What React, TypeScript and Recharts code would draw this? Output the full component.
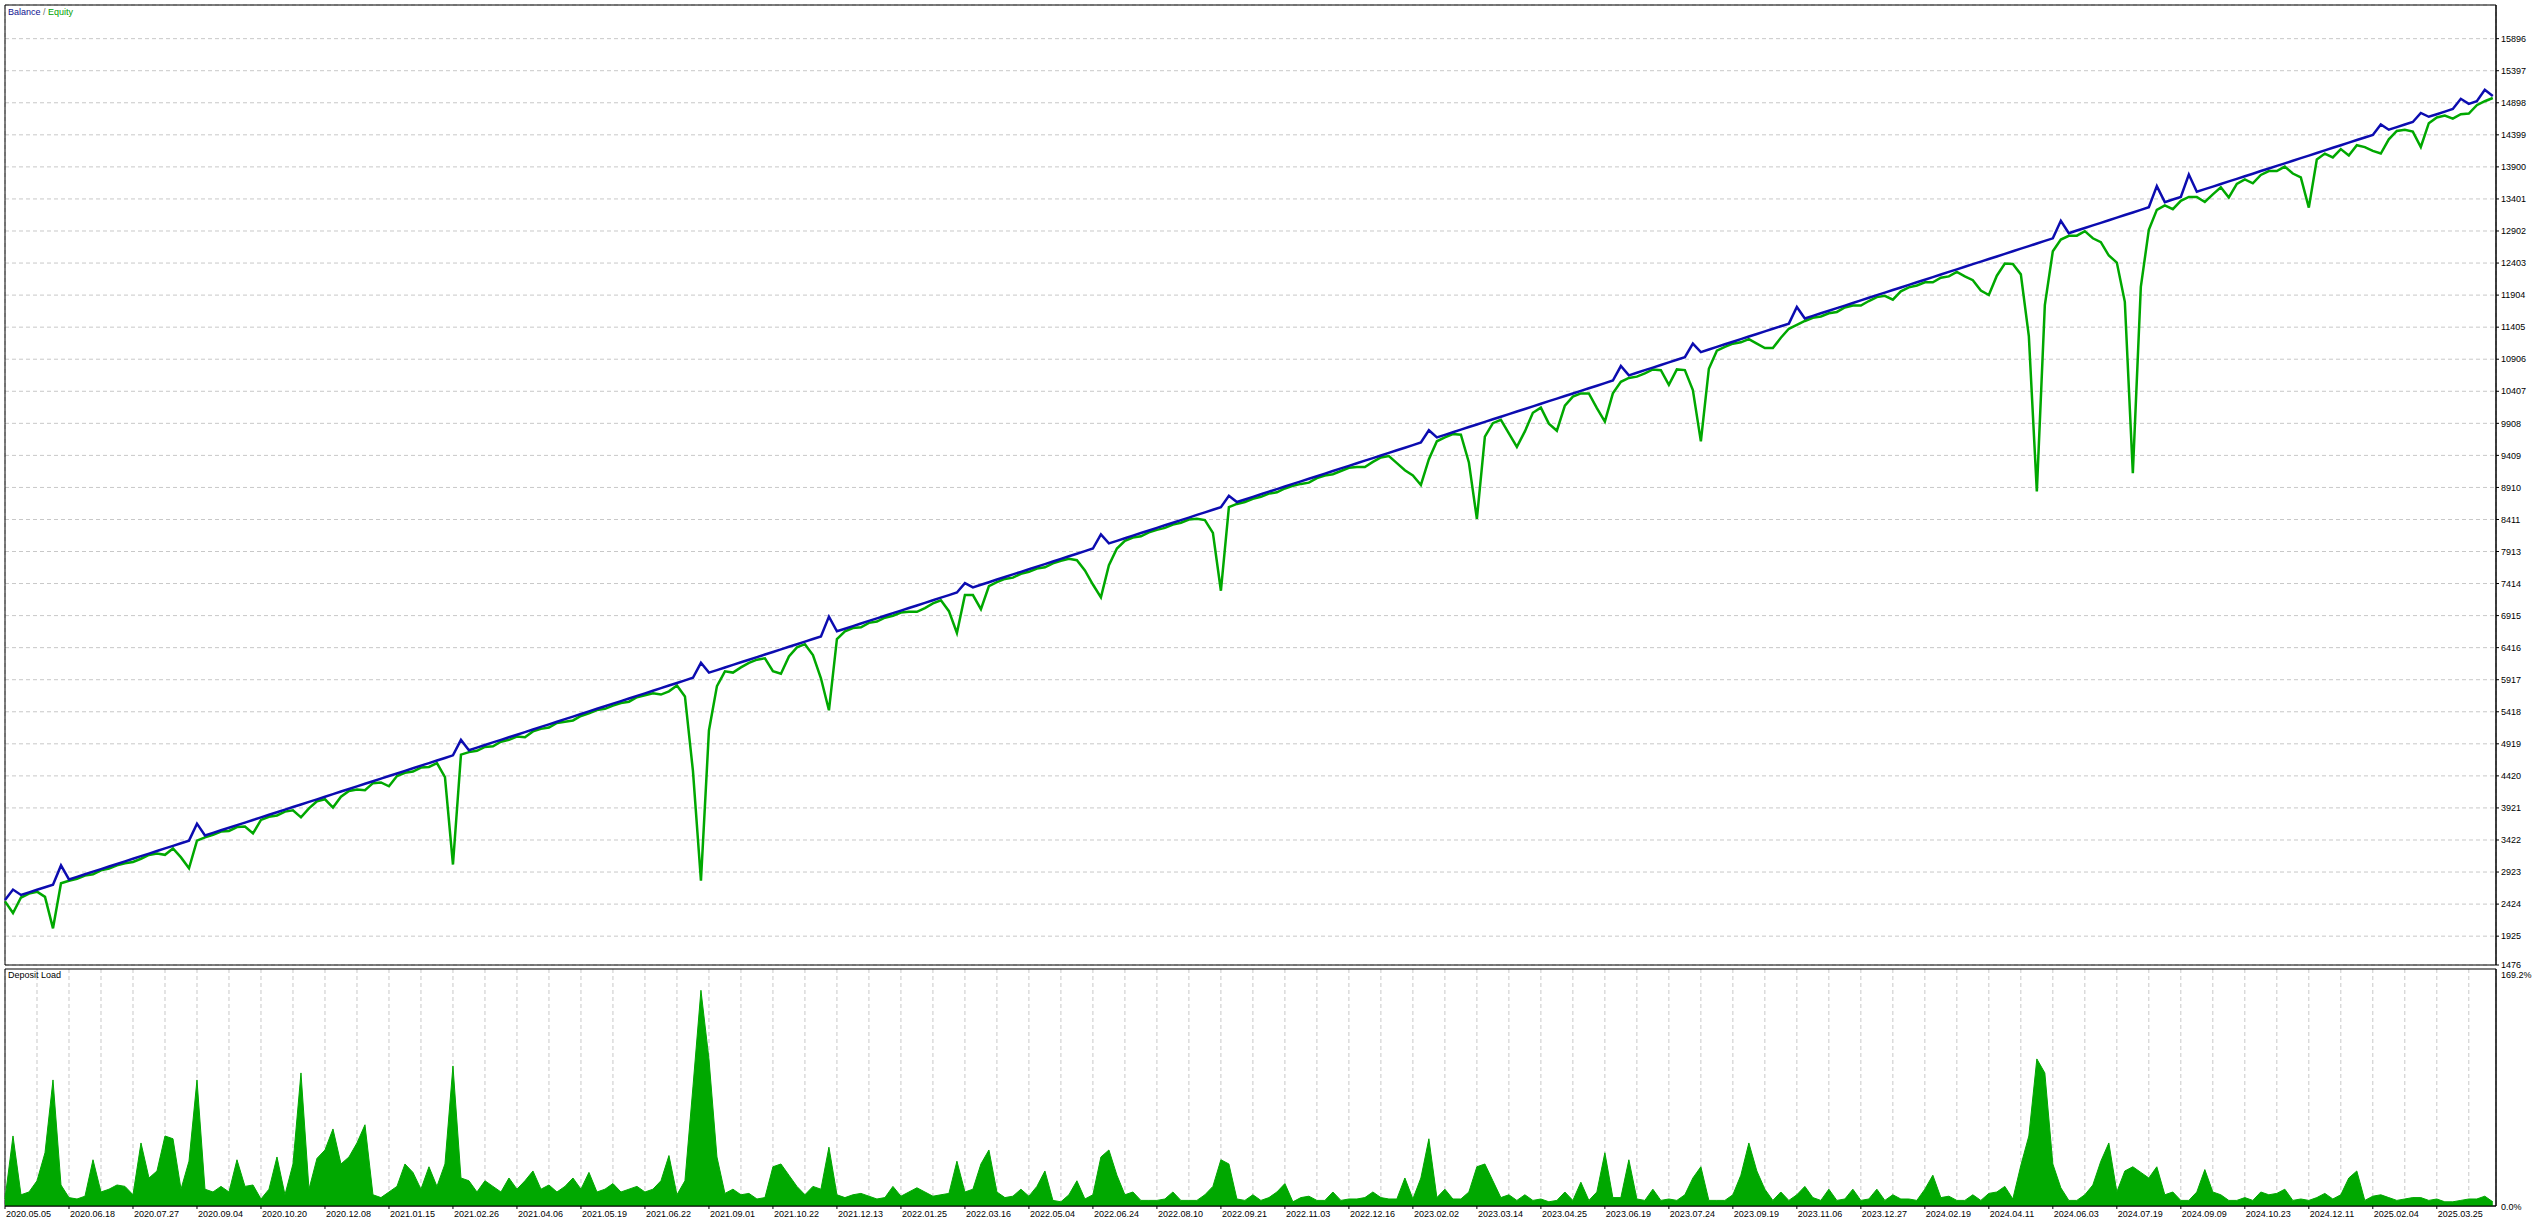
import React from 'react'
import { LineChart, Line, AreaChart, Area, XAxis, YAxis, CartesianGrid, ReferenceArea } from 'recharts'

const FONT = '"Liberation Sans", Arial, sans-serif'
const BLUE = '#0c0cb0'
const GREEN = '#00a800'

// one sample every 8 px of the tester graph, x is the sample number
const X_MAX = 311.4

const dateLabels = [
  '2020.05.05', '2020.06.18', '2020.07.27', '2020.09.04', '2020.10.20', '2020.12.08',
  '2021.01.15', '2021.02.26', '2021.04.06', '2021.05.19', '2021.06.22', '2021.09.01',
  '2021.10.22', '2021.12.13', '2022.01.25', '2022.03.16', '2022.05.04', '2022.06.24',
  '2022.08.10', '2022.09.21', '2022.11.03', '2022.12.16', '2023.02.02', '2023.03.14',
  '2023.04.25', '2023.06.19', '2023.07.24', '2023.09.19', '2023.11.06', '2023.12.27',
  '2024.02.19', '2024.04.11', '2024.06.03', '2024.07.19', '2024.09.09', '2024.10.23',
  '2024.12.11', '2025.02.04', '2025.03.25',
]

const balanceTicks = [
  1476, 1925, 2424, 2923, 3422, 3921, 4420, 4919, 5418, 5917, 6416, 6915, 7414, 7913, 8411,
  8910, 9409, 9908, 10407, 10906, 11405, 11904, 12403, 12902, 13401, 13900, 14399, 14898,
  15397, 15896,
]

const balance = [
  2486, 2650, 2566, 2607, 2647, 2687, 2727, 3026, 2808, 2848,
  2888, 2929, 2969, 3009, 3049, 3090, 3130, 3170, 3210, 3251,
  3291, 3331, 3371, 3412, 3676, 3492, 3532, 3573, 3613, 3653,
  3693, 3734, 3774, 3814, 3854, 3894, 3935, 3975, 4015, 4055,
  4096, 4136, 4176, 4216, 4257, 4297, 4337, 4377, 4418, 4458,
  4498, 4538, 4579, 4619, 4659, 4699, 4740, 4980, 4820, 4860,
  4900, 4941, 4981, 5021, 5061, 5102, 5142, 5182, 5222, 5263,
  5303, 5343, 5383, 5424, 5464, 5504, 5544, 5584, 5625, 5665,
  5705, 5745, 5786, 5826, 5866, 5906, 5947, 6180, 6027, 6067,
  6108, 6148, 6188, 6228, 6269, 6309, 6349, 6389, 6430, 6470,
  6510, 6550, 6590, 6900, 6671, 6711, 6751, 6792, 6832, 6872,
  6912, 6953, 6993, 7033, 7073, 7113, 7154, 7194, 7234, 7274,
  7420, 7355, 7395, 7435, 7476, 7516, 7556, 7596, 7637, 7677,
  7717, 7757, 7798, 7838, 7878, 7918, 7959, 8180, 8039, 8079,
  8120, 8160, 8200, 8240, 8280, 8321, 8361, 8401, 8441, 8482,
  8522, 8562, 8602, 8780, 8683, 8723, 8763, 8804, 8844, 8884,
  8924, 8965, 9005, 9045, 9085, 9126, 9166, 9206, 9246, 9287,
  9327, 9367, 9407, 9448, 9488, 9528, 9568, 9609, 9800, 9689,
  9729, 9770, 9810, 9850, 9890, 9931, 9971, 10011, 10051, 10092,
  10132, 10172, 10212, 10253, 10293, 10333, 10373, 10414, 10454, 10494,
  10534, 10575, 10800, 10655, 10695, 10736, 10776, 10816, 10856, 10897,
  10937, 11150, 11017, 11058, 11098, 11138, 11178, 11219, 11259, 11299,
  11339, 11380, 11420, 11460, 11720, 11541, 11581, 11621, 11661, 11702,
  11741, 11782, 11822, 11862, 11903, 11943, 11983, 12023, 12064, 12104,
  12144, 12184, 12225, 12265, 12305, 12345, 12386, 12426, 12466, 12506,
  12546, 12587, 12627, 12667, 12707, 12748, 12788, 13060, 12868, 12909,
  12949, 12989, 13029, 13070, 13110, 13150, 13190, 13231, 13271, 13600,
  13351, 13392, 13432, 13780, 13513, 13553, 13593, 13633, 13674, 13714,
  13754, 13794, 13835, 13875, 13915, 13955, 13996, 14036, 14076, 14116,
  14157, 14197, 14237, 14277, 14318, 14358, 14398, 14560, 14479, 14519,
  14559, 14599, 14740, 14680, 14720, 14760, 14801, 14960, 14881, 14921,
  15100, 15002,
]

// balance minus equity at each sample
const floatingLoss = [
  20, 364, 40, 20, 30, 150, 680, 278, 20, 30,
  20, 40, 20, 30, 20, 30, 50, 40, 20, 40,
  100, 40, 220, 430, 264, 30, 30, 20, 50, 30,
  60, 210, 40, 30, 50, 30, 50, 200, 100, 30,
  40, 210, 80, 30, 50, 100, 30, 60, 160, 40,
  30, 50, 30, 60, 40, 300, 1700, 230, 30, 50,
  30, 60, 30, 40, 30, 80, 30, 30, 50, 20,
  40, 60, 30, 30, 20, 40, 30, 30, 50, 20,
  30, 40, 100, 90, 40, 250, 1450, 3393, 900, 250,
  60, 120, 80, 50, 40, 60, 300, 380, 150, 50,
  40, 250, 650, 1459, 120, 40, 30, 60, 30, 50,
  30, 40, 30, 60, 100, 80, 50, 40, 250, 630,
  185, 120, 380, 60, 40, 30, 50, 30, 40, 30,
  50, 30, 30, 40, 100, 300, 560, 981, 340, 120,
  40, 30, 50, 30, 30, 40, 30, 40, 30, 60,
  120, 360, 1300, 177, 30, 40, 30, 40, 30, 50,
  30, 30, 40, 60, 30, 30, 50, 40, 30, 60,
  100, 60, 30, 50, 200, 350, 470, 660, 451, 60,
  40, 30, 80, 550, 1470, 230, 60, 50, 300, 550,
  350, 100, 60, 350, 500, 150, 50, 40, 80, 350,
  600, 200, 245, 40, 60, 50, 30, 80, 350, 150,
  200, 723, 1390, 300, 60, 40, 30, 50, 40, 150,
  260, 300, 180, 80, 280, 40, 30, 50, 40, 60,
  30, 40, 80, 50, 30, 50, 150, 60, 40, 50,
  40, 80, 50, 70, 40, 150, 250, 450, 560, 300,
  150, 200, 400, 1400, 3860, 1000, 200, 292, 40, 80,
  50, 200, 300, 550, 700, 1350, 4060, 1200, 350, 369,
  50, 150, 60, 348, 80, 200, 120, 50, 250, 80,
  50, 150, 60, 40, 80, 50, 200, 300, 810, 100,
  50, 150, 60, 200, 80, 150, 250, 452, 150, 60,
  80, 150, 530, 100, 50, 60, 150, 239, 150, 60,
  178, 30,
]

// deposit load, percent
const depositLoad = [
  5, 50, 8, 10, 18, 38, 90, 15, 6, 5,
  7, 33, 10, 12, 15, 14, 8, 45, 20, 25,
  50, 48, 12, 32, 90, 12, 10, 14, 10, 33,
  14, 15, 5, 12, 35, 8, 30, 95, 12, 34,
  40, 55, 30, 35, 45, 58, 8, 6, 10, 14,
  30, 24, 12, 28, 14, 30, 100, 20, 18, 10,
  18, 14, 10, 20, 12, 18, 25, 12, 15, 10,
  14, 20, 12, 24, 10, 12, 16, 10, 12, 14,
  10, 12, 18, 36, 8, 18, 85, 154, 105, 35,
  9, 12, 8, 9, 5, 6, 28, 30, 22, 14,
  8, 14, 12, 42, 8, 6, 8, 9, 7, 5,
  6, 14, 7, 10, 13, 10, 7, 8, 9, 32,
  10, 12, 30, 40, 10, 6, 7, 12, 7, 14,
  25, 4, 3, 8, 18, 5, 8, 35, 40, 22,
  8, 10, 4, 4, 4, 5, 10, 4, 4, 4,
  8, 14, 33, 30, 5, 4, 8, 4, 6, 10,
  16, 3, 6, 7, 4, 4, 10, 4, 5, 5,
  6, 10, 6, 5, 5, 20, 5, 20, 48, 6,
  12, 5, 5, 10, 28, 30, 18, 6, 8, 4,
  8, 4, 5, 3, 4, 10, 4, 17, 4, 10,
  38, 6, 6, 33, 5, 4, 12, 4, 5, 4,
  8, 20, 28, 4, 4, 4, 8, 22, 45, 25,
  12, 4, 10, 4, 8, 14, 6, 4, 12, 4,
  5, 12, 4, 5, 12, 4, 8, 5, 5, 4,
  12, 22, 6, 7, 4, 4, 8, 4, 9, 10,
  14, 5, 29, 50, 105, 95, 30, 13, 4, 4,
  8, 15, 32, 45, 10, 25, 28, 24, 20, 28,
  8, 10, 4, 4, 10, 26, 10, 8, 4, 4,
  6, 4, 10, 8, 9, 12, 4, 5, 4, 6,
  9, 5, 8, 20, 25, 4, 7, 8, 6, 4,
  5, 6, 6, 4, 5, 3, 3, 4, 5, 5,
  7, 3,
]

const mainData = balance.map((b, i) => ({ i, balance: b, equity: b - floatingLoss[i] }))
const loadData = depositLoad.map((v, i) => ({ i, load: v }))

// grid every 4 samples, a date label on every second grid line
const gridTicks = Array.from({ length: 78 }, (_, k) => k * 4)

function DateTick({ x, y, payload }: any) {
  const v = payload.value
  if (v % 8 !== 0) return null
  const label = dateLabels[v / 8]
  if (!label) return null
  return (
    <g>
      <line x1={x} y1={y} x2={x} y2={y + 3} stroke="#000" />
      <text x={x + 1} y={y + 10.5} fontSize={9} fontFamily={FONT} fill="#000" textAnchor="start">
        {label}
      </text>
    </g>
  )
}

function LoadTick({ x, y, payload }: any) {
  const top = payload.value > 0
  return (
    <text x={x} y={top ? y + 8.7 : y + 3.9} fontSize={9} fontFamily={FONT} fill="#000" textAnchor="start">
      {payload.value.toFixed(1)}%
    </text>
  )
}

export default function App() {
  return (
    <div style={{ position: 'absolute', left: 0, top: 0, width: 2540, height: 1223, background: '#fff', overflow: 'hidden' }}>
      <div style={{ position: 'absolute', left: 0, top: 0 }}>
        <LineChart width={2540} height={970} data={mainData} margin={{ top: 5, right: 0, left: 5, bottom: 5 }}>
          <CartesianGrid stroke="#c8c8c8" strokeDasharray="4 3" />
          <XAxis
            dataKey="i"
            type="number"
            domain={[0, X_MAX]}
            ticks={gridTicks}
            interval={0}
            tick={false}
            tickLine={false}
            axisLine={false}
            height={0}
          />
          <YAxis
            orientation="right"
            domain={[1476, 16420]}
            ticks={balanceTicks}
            interval={0}
            width={44}
            tickSize={3}
            tickMargin={2}
            axisLine={{ stroke: '#000' }}
            tickLine={{ stroke: '#000' }}
            tick={{ fontSize: 9, fill: '#000', fontFamily: FONT }}
          />
          <ReferenceArea x1={0} x2={X_MAX} y1={1476} y2={16420} fill="none" stroke="#000" strokeWidth={1} />
          <Line type="linear" dataKey="equity" stroke={GREEN} strokeWidth={2.5} dot={false} isAnimationActive={false} />
          <Line type="linear" dataKey="balance" stroke={BLUE} strokeWidth={2.5} dot={false} isAnimationActive={false} />
        </LineChart>
      </div>

      <div style={{ position: 'absolute', left: 0, top: 964 }}>
        <AreaChart width={2540} height={259} data={loadData} margin={{ top: 5, right: 0, left: 5, bottom: 0 }}>
          <CartesianGrid horizontal={false} stroke="#c8c8c8" strokeDasharray="4 3" />
          <XAxis
            dataKey="i"
            type="number"
            domain={[0, X_MAX]}
            ticks={gridTicks}
            interval={0}
            height={17}
            tickSize={0}
            tickMargin={0}
            tickLine={false}
            axisLine={{ stroke: '#000' }}
            tick={<DateTick />}
          />
          <YAxis
            orientation="right"
            domain={[0, 169.2]}
            ticks={[0, 169.2]}
            interval={0}
            width={44}
            tickSize={3}
            tickMargin={2}
            axisLine={{ stroke: '#000' }}
            tickLine={false}
            tick={<LoadTick />}
          />
          <ReferenceArea x1={0} x2={X_MAX} y1={0} y2={169.2} fill="none" stroke="#000" strokeWidth={1} />
          <Area
            type="linear"
            dataKey="load"
            stroke={GREEN}
            strokeWidth={1}
            fill={GREEN}
            fillOpacity={1}
            isAnimationActive={false}
          />
        </AreaChart>
      </div>

      <div style={{ position: 'absolute', left: 8, top: 8, fontSize: 9, lineHeight: '9px', fontFamily: FONT, whiteSpace: 'nowrap' }}>
        <span style={{ color: '#101090' }}>Balance</span>
        <span style={{ color: '#707070' }}> / </span>
        <span style={{ color: '#00a000' }}>Equity</span>
      </div>
      <div style={{ position: 'absolute', left: 8, top: 971, fontSize: 9, lineHeight: '9px', fontFamily: FONT, color: '#000', whiteSpace: 'nowrap' }}>
        Deposit Load
      </div>
    </div>
  )
}
